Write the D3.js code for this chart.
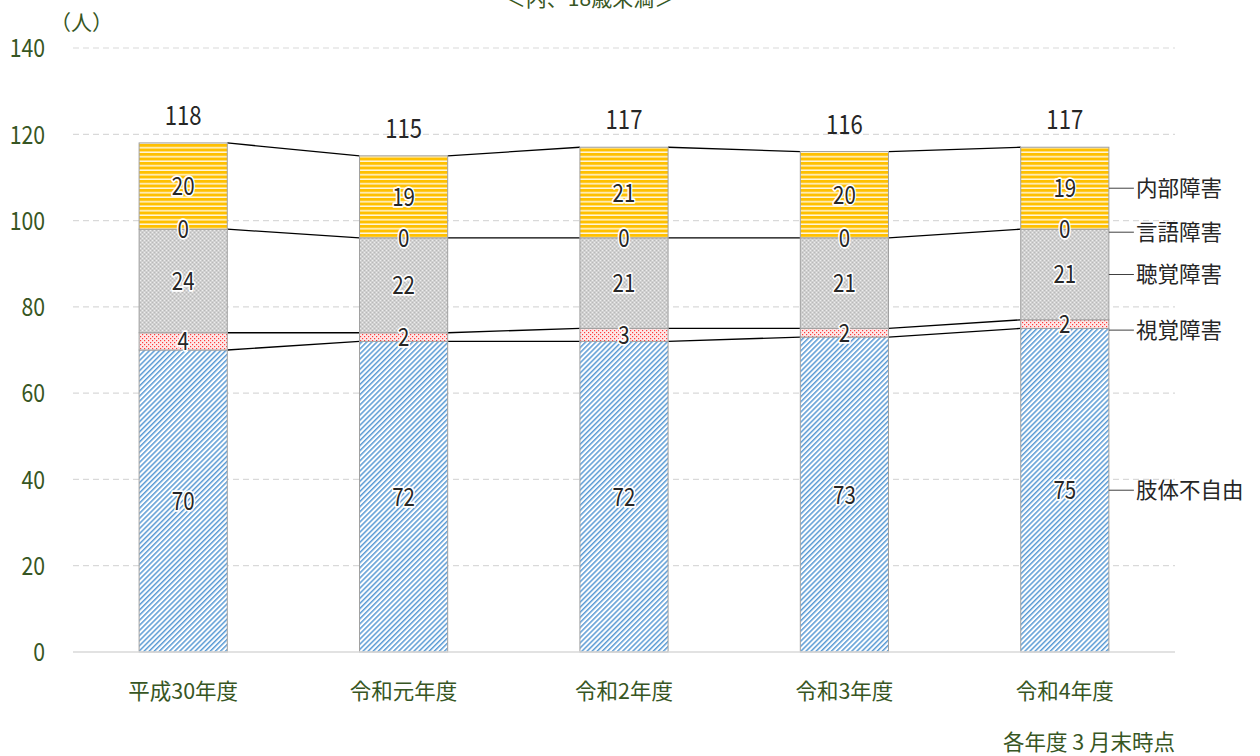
<!DOCTYPE html>
<html><head><meta charset="utf-8">
<script src="https://cdn.jsdelivr.net/npm/d3@7"></script>
<style>
body{margin:0;background:#fff;}
svg{display:block;font-family:"Noto Sans CJK JP","Noto Sans",sans-serif;}
</style></head>
<body>
<svg id="c" width="1260" height="756"></svg>
<script>
const categories = ["平成30年度","令和元年度","令和2年度","令和3年度","令和4年度"];
const seriesNames = ["肢体不自由","視覚障害","聴覚障害","言語障害","内部障害"];
const limbs   = [70,72,72,73,75];
const vision  = [4,2,3,2,2];
const hearing = [24,22,21,21,21];
const speech  = [0,0,0,0,0];
const internal= [20,19,21,20,19];
const totals  = [118,115,117,116,117];
const yTicks  = [0,20,40,60,80,100,120,140];
const seriesValues = [limbs, vision, hearing, speech, internal];

const green = "#375623";
const svg = d3.select("#c");
const defs = svg.append("defs");

// patterns
const pBlue = defs.append("pattern").attr("id","pBlue").attr("patternUnits","userSpaceOnUse")
  .attr("width",3.6).attr("height",3.6).attr("patternTransform","rotate(45)");
pBlue.append("rect").attr("width",3.6).attr("height",3.6).attr("fill","#ffffff");
pBlue.append("rect").attr("width",1.5).attr("height",3.6).attr("fill","#5b9bd5");

const pRed = defs.append("pattern").attr("id","pRed").attr("patternUnits","userSpaceOnUse")
  .attr("width",4).attr("height",4);
pRed.append("rect").attr("width",4).attr("height",4).attr("fill","#fde8e8");
pRed.append("rect").attr("x",0).attr("y",0).attr("width",1.2).attr("height",1.2).attr("fill","#ff3b3b");
pRed.append("rect").attr("x",2).attr("y",2).attr("width",1.2).attr("height",1.2).attr("fill","#ff3b3b");

const pGray = defs.append("pattern").attr("id","pGray").attr("patternUnits","userSpaceOnUse")
  .attr("width",4).attr("height",4);
pGray.append("rect").attr("width",4).attr("height",4).attr("fill","#d0d0d0");
pGray.append("rect").attr("x",0).attr("y",0).attr("width",1).attr("height",1).attr("fill","#ececec");
pGray.append("rect").attr("x",2).attr("y",2).attr("width",1).attr("height",1).attr("fill","#ececec");
pGray.append("rect").attr("x",2).attr("y",0).attr("width",1).attr("height",1).attr("fill","#b8b8b8");
pGray.append("rect").attr("x",0).attr("y",2).attr("width",1).attr("height",1).attr("fill","#b8b8b8");

const pGold = defs.append("pattern").attr("id","pGold").attr("patternUnits","userSpaceOnUse")
  .attr("width",4).attr("height",4.5);
pGold.append("rect").attr("width",4).attr("height",4.5).attr("fill","#ffc000");
pGold.append("rect").attr("y",3).attr("width",4).attr("height",1.5).attr("fill","#fff6dc");

const fills = ["url(#pBlue)","url(#pRed)","url(#pGray)","url(#pGray)","url(#pGold)"];

const x = d3.scaleBand().domain(categories).range([73,1175]).paddingInner(0.6).paddingOuter(0.3);
const y = d3.scaleLinear().domain([0,140]).range([652,48]);
const bw = x.bandwidth();
const narrow = (cx)=>`translate(${cx},0) scale(0.82,1) translate(${-cx},0)`;

// title (partially cut off at top, as in the reference)
svg.append("text").attr("x",590).attr("y",6).attr("text-anchor","middle")
  .attr("font-size",21).attr("fill",green).text("＜内、18歳未満＞");

// gridlines
svg.append("g").selectAll("line").data(yTicks.filter(d=>d>0)).join("line")
  .attr("x1",73).attr("x2",1175).attr("y1",d=>y(d)).attr("y2",d=>y(d))
  .attr("stroke","#d9d9d9").attr("stroke-width",1.2).attr("stroke-dasharray","6,4");

// y axis labels
const yAxis = d3.axisLeft(y).tickValues(yTicks).tickSize(0).tickPadding(0);
const gy = svg.append("g").attr("transform","translate(45,0)").call(yAxis);
gy.select(".domain").remove();
gy.selectAll("text").attr("font-size",25).attr("fill",green)
  .attr("font-family","'Noto Sans CJK JP',sans-serif").attr("dy","0.35em")
  .attr("transform","scale(0.85,1)");

svg.append("text").attr("x",50).attr("y",30).attr("font-size",21).attr("fill",green).text("（人）");

// stacked data
const rows = categories.map((c,i)=>{const o={cat:c}; seriesNames.forEach((s,k)=>o[s]=seriesValues[k][i]); return o;});
const stack = d3.stack().keys(seriesNames)(rows);

// series lines
const lineG = svg.append("g");
[0,1,2,4].forEach(k=>{
  for(let i=0;i<categories.length-1;i++){
    lineG.append("line")
      .attr("x1",x(categories[i])+bw).attr("x2",x(categories[i+1]))
      .attr("y1",y(stack[k][i][1])).attr("y2",y(stack[k][i+1][1]))
      .attr("stroke","#000").attr("stroke-width",1.3);
  }
});

// bars
stack.forEach((layer,k)=>{
  svg.append("g").selectAll("rect").data(layer).join("rect")
    .attr("x",(d,i)=>x(categories[i])).attr("width",bw)
    .attr("y",d=>y(d[1])).attr("height",d=>Math.max(0,y(d[0])-y(d[1])))
    .attr("fill",fills[k]).attr("stroke","#a0a0a0").attr("stroke-width",1);
});

// axis baseline
svg.append("line").attr("x1",73).attr("x2",1175).attr("y1",y(0)).attr("y2",y(0))
  .attr("stroke","#d9d9d9").attr("stroke-width",1.5);

// segment labels
stack.forEach((layer,k)=>{
  svg.append("g").selectAll("text").data(layer).join("text")
    .attr("x",(d,i)=>x(categories[i])+bw/2)
    .attr("y",d=>y((d[0]+d[1])/2))
    .attr("dy","0.36em").attr("text-anchor","middle")
    .attr("font-size",25).attr("fill","#262626")
    .attr("stroke","#fff").attr("stroke-width",3.5).attr("stroke-linejoin","round").attr("paint-order","stroke")
    .attr("transform",(d,i)=>narrow(x(categories[i])+bw/2))
    .text(d=>d.data[seriesNames[k]]);
});

// totals
svg.append("g").selectAll("text").data(totals).join("text")
  .attr("x",(d,i)=>x(categories[i])+bw/2).attr("y",d=>y(d)-18)
  .attr("text-anchor","middle").attr("font-size",27).attr("fill","#262626")
  .attr("transform",(d,i)=>narrow(x(categories[i])+bw/2))
  .text(d=>d);

// legend labels at right of last bar
const last = categories.length-1;
const xr = x(categories[last])+bw;
const legendY = [
  y((stack[0][last][0]+stack[0][last][1])/2),
  y((stack[1][last][0]+stack[1][last][1])/2)+6,
  y((stack[2][last][0]+stack[2][last][1])/2),
  y(stack[3][last][1])+3,
  y((stack[4][last][0]+stack[4][last][1])/2)
];
seriesNames.forEach((s,k)=>{
  svg.append("line").attr("x1",xr).attr("x2",xr+25).attr("y1",legendY[k]).attr("y2",legendY[k])
    .attr("stroke","#404040").attr("stroke-width",1);
  svg.append("text").attr("x",xr+27).attr("y",legendY[k]).attr("dy","0.35em")
    .attr("font-size",21.5).attr("fill","#262626").text(s);
});

// category labels
svg.append("g").selectAll("text").data(categories).join("text")
  .attr("x",d=>x(d)+bw/2).attr("y",699).attr("text-anchor","middle")
  .attr("font-size",21.5).attr("fill",green).text(d=>d);

// footnote
svg.append("text").attr("x",1175).attr("y",750).attr("text-anchor","end")
  .attr("font-size",21.5).attr("fill",green).text("各年度 3 月末時点");
</script>
</body></html>
